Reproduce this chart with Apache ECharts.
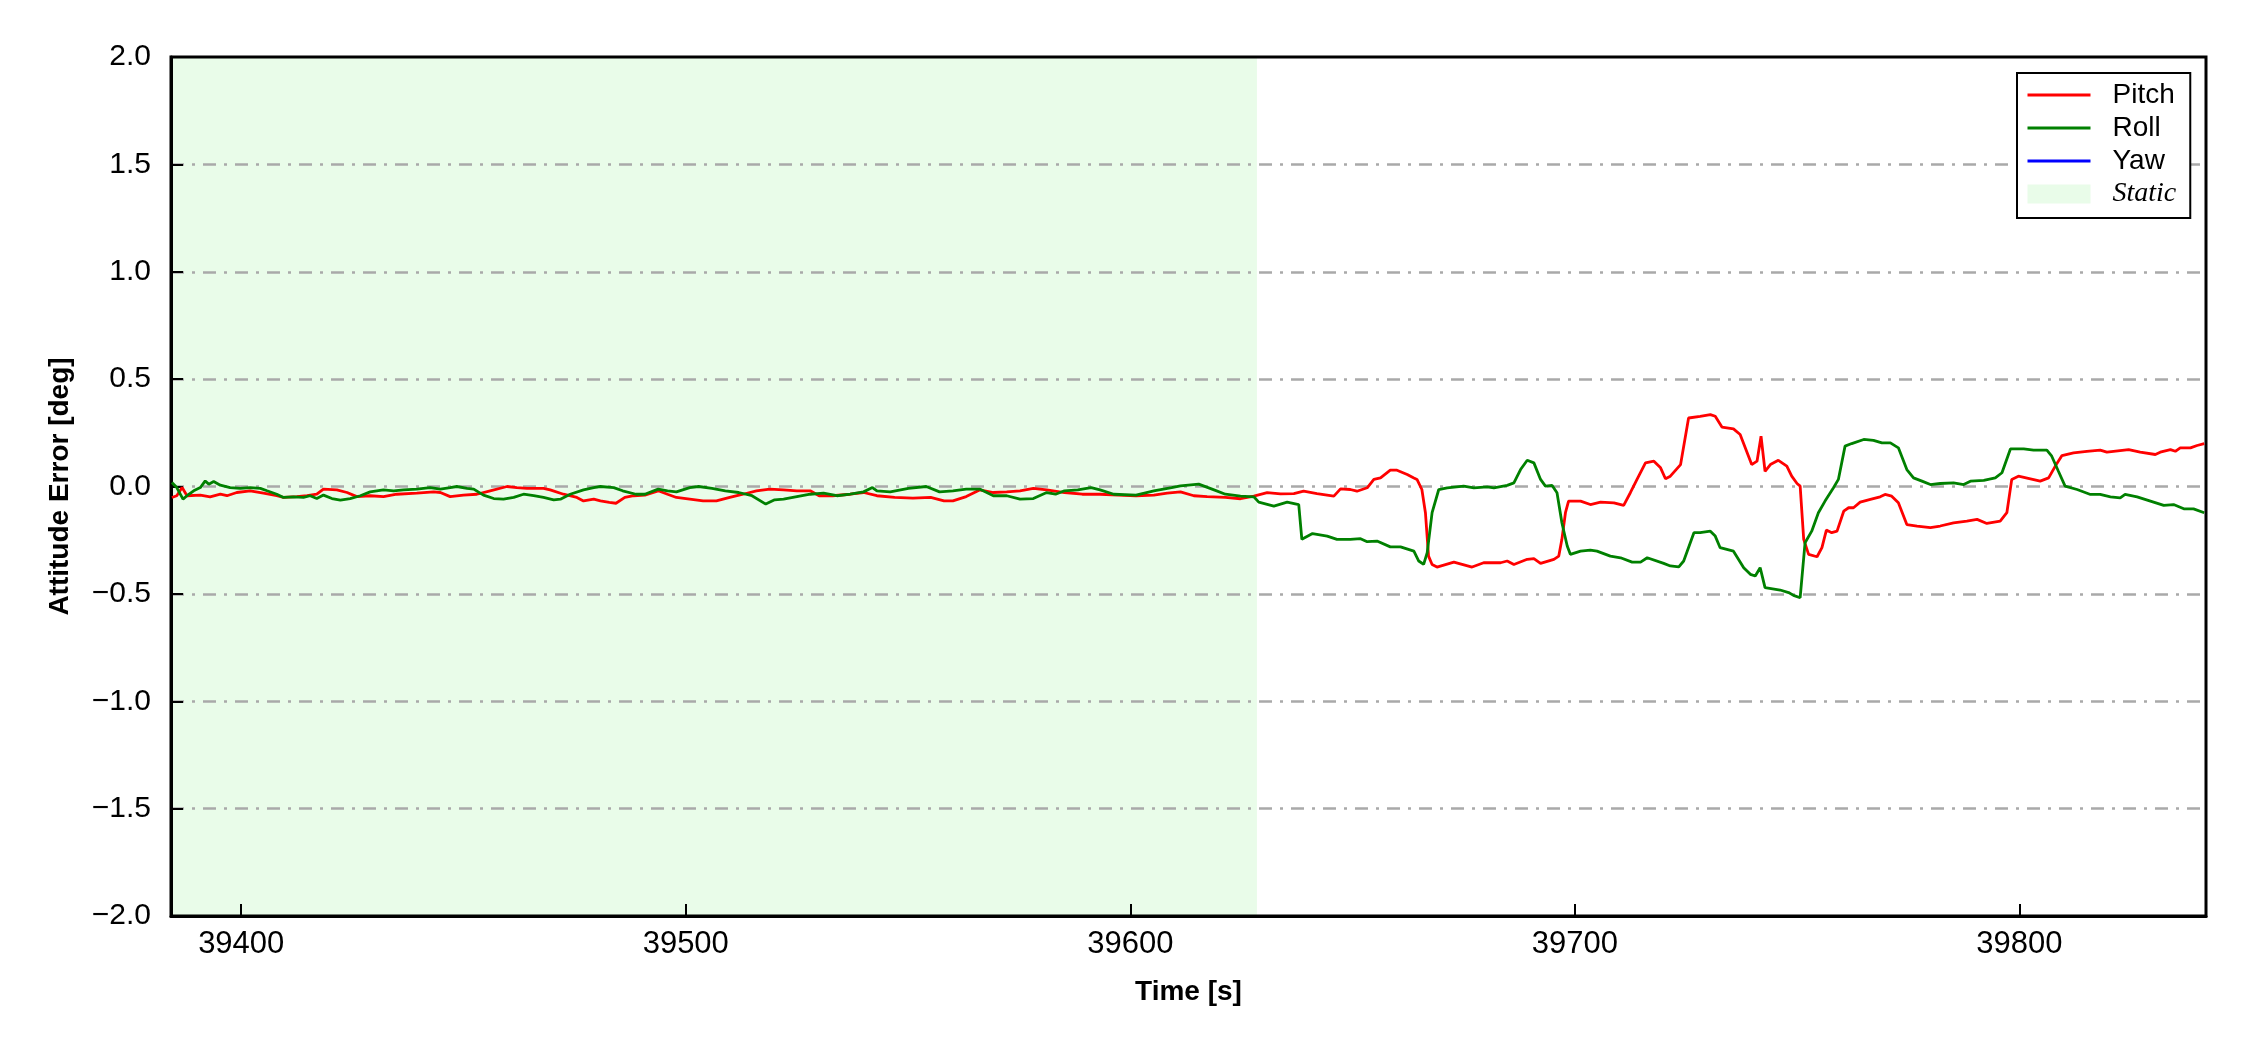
<!DOCTYPE html>
<html>
<head>
<meta charset="utf-8">
<title>Attitude Error</title>
<script src="https://cdn.jsdelivr.net/npm/echarts@6/dist/echarts.min.js"></script>
<style>
  html, body { margin: 0; padding: 0; background: #fff; }
  #chart { width: 2250px; height: 1050px; }
</style>
</head>
<body>
<div id="chart"></div>
<script>
// time axis [s]
const xTicks = [39400, 39500, 39600, 39700, 39800]
const xMin = 39384.2
const xMax = 39842
const staticSpan = [39384.2, 39628.5]

// pitch error [deg]
const pitchTime = [
  39384.4, 39385.5, 39386.7, 39387.8, 39390.8, 39393.0, 39395.3, 39396.8, 39399.0, 39402.0,
  39405.0, 39408.0, 39409.5, 39412.5, 39414.8, 39417.0, 39418.5, 39421.5, 39423.8, 39426.0,
  39429.0, 39432.0, 39435.0, 39439.5, 39443.3, 39444.8, 39447.0, 39450.0, 39453.0, 39456.0,
  39459.8, 39462.0, 39464.3, 39468.0, 39469.5, 39472.5, 39475.5, 39477.0, 39479.3,
  39480.8, 39482.8, 39484.3, 39486.3, 39488.3, 39490.8, 39493.8, 39495.9, 39497.9, 39500.9,
  39503.9, 39506.9, 39509.9, 39512.9, 39515.9, 39518.9, 39522.0, 39525.0, 39528.0, 39530.0,
  39533.0, 39537.0, 39540.0, 39543.0, 39547.0, 39551.1, 39555.1, 39558.1, 39560.1, 39563.1,
  39566.1, 39569.2, 39572.2, 39575.2, 39578.2, 39581.2, 39585.2, 39589.2, 39593.2, 39597.3,
  39601.3, 39605.3, 39608.3, 39611.3, 39614.3, 39617.3, 39621.4,
  39624.8, 39627.8, 39630.8, 39633.8, 39636.8, 39639.0, 39642.0, 39645.8, 39647.3, 39649.5,
  39651.0, 39653.3, 39654.8, 39656.3, 39658.5, 39660.0, 39662.3, 39663.8, 39664.5, 39665.6,
  39666.4, 39667.1, 39667.9, 39669.0, 39672.8, 39676.9, 39679.5, 39683.3, 39684.8, 39686.3,
  39689.3, 39690.8, 39692.3, 39695.3, 39696.4, 39697.1, 39697.9, 39698.6, 39701.3, 39703.5,
  39705.8, 39708.8, 39711.0, 39712.5, 39714.0, 39715.9, 39717.8, 39719.3, 39720.4, 39721.5,
  39723.8, 39725.6,
  39728.2, 39730.5, 39731.6, 39733.1, 39735.7, 39737.2, 39739.8, 39741.0, 39741.9, 39742.8,
  39744.0, 39745.8, 39747.7, 39748.8, 39750.0, 39750.7, 39751.5, 39752.6, 39754.5, 39755.6,
  39756.6, 39757.8, 39759.0, 39760.5, 39761.6, 39762.7, 39764.2, 39766.5, 39768.7, 39769.8,
  39771.3, 39772.8, 39774.7, 39777.0, 39780.0, 39782.2, 39785.2, 39788.2, 39790.5, 39792.7,
  39795.7, 39797.2, 39798.3, 39799.8, 39802.5, 39804.7, 39806.6, 39808.1, 39809.6, 39812.2,
  39815.2, 39818.2, 39819.7, 39821.2, 39824.6, 39827.2, 39830.6, 39831.7, 39834.0, 39835.1,
  39836.2, 39838.5, 39840.0, 39841.6
]
const pitchDeg = [
  -0.051, -0.043, -0.005, -0.043, -0.040, -0.048, -0.036, -0.043, -0.028, -0.020,
  -0.031, -0.043, -0.051, -0.047, -0.043, -0.036, -0.012, -0.016, -0.028, -0.047,
  -0.043, -0.047, -0.036, -0.031, -0.025, -0.028, -0.047, -0.040, -0.036, -0.020,
  0.000, -0.005, -0.009, -0.009, -0.016, -0.036, -0.051, -0.067, -0.059,
  -0.067, -0.074, -0.078, -0.051, -0.043, -0.040, -0.020, -0.036, -0.051, -0.059,
  -0.067, -0.067, -0.051, -0.036, -0.020, -0.012, -0.016, -0.020, -0.020, -0.043,
  -0.043, -0.036, -0.028, -0.043, -0.051, -0.054, -0.051, -0.067, -0.067, -0.047,
  -0.016, -0.028, -0.025, -0.020, -0.009, -0.016, -0.028, -0.036, -0.036, -0.040,
  -0.043, -0.040, -0.031, -0.025, -0.043, -0.047, -0.051,
  -0.057, -0.045, -0.029, -0.034, -0.033, -0.022, -0.033, -0.045, -0.011, -0.014,
  -0.022, -0.006, 0.033, 0.040, 0.076, 0.076, 0.056, 0.040, 0.033, -0.014,
  -0.122, -0.324, -0.363, -0.375, -0.352, -0.375, -0.355, -0.355, -0.347, -0.363,
  -0.339, -0.336, -0.358, -0.339, -0.324, -0.246, -0.122, -0.068, -0.068, -0.084,
  -0.073, -0.076, -0.088, -0.029, 0.033, 0.110, 0.118, 0.087, 0.036, 0.048,
  0.102, 0.319,
  0.327, 0.335, 0.327, 0.277, 0.268, 0.242, 0.102, 0.118, 0.234, 0.071,
  0.102, 0.122, 0.095, 0.048, 0.014, 0.002, -0.246, -0.316, -0.327, -0.285,
  -0.203, -0.215, -0.208, -0.115, -0.099, -0.099, -0.073, -0.060, -0.048, -0.037,
  -0.045, -0.076, -0.177, -0.184, -0.192, -0.184, -0.169, -0.161, -0.153, -0.172,
  -0.161, -0.122, 0.033, 0.048, 0.036, 0.025, 0.040, 0.095, 0.144, 0.157,
  0.164, 0.169, 0.160, 0.164, 0.172, 0.160, 0.149, 0.160, 0.172, 0.164,
  0.180, 0.180, 0.191, 0.200
]

// roll error [deg]
const rollTime = [
  39384.4, 39385.5, 39386.9, 39387.8, 39389.3, 39390.8, 39391.9, 39392.7, 39393.8, 39395.3,
  39397.5, 39399.8, 39402.0, 39404.3, 39405.8, 39408.0, 39409.5, 39411.8, 39414.0, 39415.5,
  39417.0, 39418.5, 39420.4, 39422.3, 39424.5, 39426.8, 39429.0, 39432.0, 39434.3, 39436.5,
  39439.5, 39442.5, 39444.8, 39447.0, 39448.5, 39450.8, 39452.3, 39454.5, 39456.8, 39459.0,
  39461.3, 39463.5, 39465.8, 39468.0, 39470.3, 39471.8, 39474.0, 39477.0, 39479.3,
  39480.8, 39483.8, 39485.8, 39488.8, 39490.8, 39493.8, 39495.9, 39497.9, 39500.9, 39502.9,
  39505.9, 39508.9, 39511.9, 39514.9, 39518.0, 39520.0, 39522.0, 39525.0, 39528.0, 39531.0,
  39534.0, 39537.0, 39540.0, 39542.0, 39543.0, 39546.0, 39550.1, 39554.1, 39557.1, 39560.1,
  39563.1, 39566.1, 39569.2, 39572.2, 39575.2, 39578.2, 39581.2, 39583.2, 39585.2, 39588.2,
  39591.2, 39593.2, 39596.3, 39601.3, 39605.3, 39609.3, 39611.3, 39615.4, 39618.4, 39621.4,
  39624.8, 39627.8, 39628.9, 39632.3, 39635.3, 39637.9, 39638.6, 39641.0, 39644.3, 39646.5,
  39649.5, 39651.8, 39653.3, 39655.5, 39658.5, 39660.8, 39663.8, 39664.9, 39666.0, 39666.8,
  39667.9, 39669.4, 39671.3, 39675.0, 39677.3, 39680.3, 39681.8, 39684.8, 39686.3, 39687.8,
  39689.3, 39690.8, 39692.3, 39693.4, 39694.9, 39696.0, 39697.1, 39698.3, 39699.0, 39701.3,
  39703.5, 39705.0, 39708.0, 39710.3, 39712.9, 39714.8, 39716.3, 39720.0, 39721.5, 39723.4,
  39724.5, 39726.8,
  39728.2, 39730.5, 39731.6, 39732.7, 39735.7, 39738.0, 39739.5, 39740.6, 39741.7, 39742.8,
  39746.2, 39748.1, 39749.2, 39750.7, 39751.8, 39753.3, 39754.8, 39756.3, 39758.2, 39759.3,
  39760.8, 39762.3, 39765.0, 39767.2, 39769.1, 39771.0, 39772.8, 39774.7, 39776.2, 39778.1,
  39780.0, 39782.2, 39785.2, 39787.5, 39789.0, 39792.0, 39794.6, 39796.1, 39798.0, 39801.0,
  39803.2, 39806.2, 39807.3, 39808.8, 39810.3, 39813.0, 39816.0, 39818.2, 39820.5, 39822.7,
  39823.8, 39826.5, 39829.5, 39832.5, 39834.7, 39837.0, 39839.2, 39841.6
]
const rollDeg = [
  0.019, -0.005, -0.059, -0.043, -0.020, -0.005, 0.026, 0.011, 0.023, 0.006,
  -0.005, -0.009, -0.005, -0.009, -0.020, -0.036, -0.051, -0.048, -0.051, -0.043,
  -0.056, -0.040, -0.056, -0.064, -0.056, -0.043, -0.025, -0.016, -0.020, -0.016,
  -0.012, -0.005, -0.012, -0.005, 0.000, -0.009, -0.012, -0.040, -0.056, -0.059,
  -0.051, -0.036, -0.043, -0.051, -0.062, -0.059, -0.036, -0.016, -0.005,
  0.000, -0.005, -0.020, -0.036, -0.036, -0.012, -0.020, -0.025, -0.005, 0.000,
  -0.009, -0.020, -0.028, -0.043, -0.082, -0.062, -0.059, -0.047, -0.036, -0.031,
  -0.043, -0.036, -0.025, -0.005, -0.020, -0.025, -0.009, 0.000, -0.025, -0.020,
  -0.012, -0.012, -0.043, -0.043, -0.059, -0.056, -0.028, -0.036, -0.020, -0.016,
  -0.005, -0.016, -0.036, -0.040, -0.020, -0.005, 0.003, 0.011, -0.012, -0.036,
  -0.045, -0.048, -0.073, -0.091, -0.073, -0.084, -0.246, -0.219, -0.231, -0.246,
  -0.246, -0.243, -0.257, -0.254, -0.281, -0.281, -0.301, -0.347, -0.363, -0.308,
  -0.122, -0.014, -0.006, 0.002, -0.006, -0.002, -0.006, 0.005, 0.017, 0.079,
  0.122, 0.110, 0.033, 0.002, 0.005, -0.029, -0.169, -0.277, -0.316, -0.301,
  -0.296, -0.301, -0.324, -0.332, -0.352, -0.352, -0.332, -0.358, -0.370, -0.374,
  -0.347, -0.215,
  -0.215, -0.208, -0.231, -0.285, -0.301, -0.378, -0.409, -0.417, -0.378, -0.471,
  -0.482, -0.494, -0.507, -0.518, -0.262, -0.208, -0.122, -0.068, -0.006, 0.033,
  0.188, 0.200, 0.219, 0.215, 0.203, 0.203, 0.180, 0.079, 0.040, 0.025,
  0.009, 0.014, 0.017, 0.009, 0.025, 0.029, 0.040, 0.064, 0.175, 0.175,
  0.169, 0.169, 0.141, 0.071, 0.002, -0.014, -0.037, -0.037, -0.048, -0.053,
  -0.037, -0.048, -0.068, -0.088, -0.084, -0.104, -0.104, -0.122
]

// yaw error [deg] - no trace visible inside the plotted range
const yawTime = []
const yawDeg = []

const FONT = '"Liberation Sans", Arial, Helvetica, sans-serif'
const SERIF = '"Liberation Serif", "Times New Roman", serif'
const STATIC_FILL = '#e9fce9'

function pairs(ts, vs) {
  return ts.map((t, i) => [t, vs[i]])
}

function fmtY(v) {
  const s = Math.abs(v).toFixed(1)
  return v < 0 ? '\u2212' + s : s
}

function lineSeries(name, color, ts, vs) {
  return {
    name,
    type: 'line',
    data: pairs(ts, vs),
    symbol: 'none',
    lineStyle: { width: 2.8, color },
    itemStyle: { color },
    z: 3,
  }
}

// legend entry for a line: keep the stroke, hide the marker dot
function lineLegend(name) {
  return { name, itemStyle: { opacity: 0 }, lineStyle: { width: 3 } }
}

function buildOption() {
  return {
    animation: false,
    backgroundColor: '#fff',
    textStyle: { fontFamily: FONT, color: '#000' },
    grid: {
      left: 171, right: 44, top: 57, bottom: 134,
      show: true, borderColor: '#000', borderWidth: 3, backgroundColor: 'transparent',
    },
    legend: {
      orient: 'vertical',
      left: 2017,
      top: 73,
      padding: [8, 14, 10, 9],
      borderColor: '#000',
      borderWidth: 2,
      borderRadius: 0,
      backgroundColor: '#fff',
      itemWidth: 63,
      itemHeight: 19,
      itemGap: 5,
      selectedMode: false,
      textStyle: {
        fontFamily: FONT, fontSize: 28, color: '#000',
        rich: {
          t: { fontFamily: FONT, fontSize: 28, color: '#000', padding: [0, 0, 0, 17] },
          s: { fontFamily: SERIF, fontStyle: 'italic', fontSize: 28, color: '#000', padding: [0, 0, 0, 17] },
        },
      },
      formatter: (name) => (name === 'Static' ? '{s|Static}' : '{t|' + name + '}'),
      data: [
        lineLegend('Pitch'),
        lineLegend('Roll'),
        lineLegend('Yaw'),
        { name: 'Static', icon: 'rect', itemStyle: { color: STATIC_FILL } },
      ],
    },
    xAxis: {
      type: 'value',
      min: xMin,
      max: xMax,
      name: 'Time [s]',
      nameLocation: 'middle',
      nameGap: 62,
      nameTextStyle: { fontFamily: FONT, fontWeight: 'bold', fontSize: 28, color: '#000' },
      axisLine: { show: true, onZero: false, lineStyle: { color: '#000', width: 3 } },
      axisTick: { show: true, inside: true, length: 12, customValues: xTicks, lineStyle: { color: '#000', width: 2 } },
      axisLabel: {
        customValues: xTicks, margin: 13, fontFamily: FONT, fontSize: 31, color: '#000',
        formatter: (v) => String(v),
      },
      splitLine: { show: false },
    },
    yAxis: {
      type: 'value',
      min: -2,
      max: 2,
      interval: 0.5,
      name: 'Attitude Error [deg]',
      nameLocation: 'middle',
      nameGap: 97,
      nameTextStyle: { fontFamily: FONT, fontWeight: 'bold', fontSize: 28, color: '#000' },
      axisLine: { show: true, onZero: false, lineStyle: { color: '#000', width: 3 } },
      axisTick: { show: true, inside: true, length: 12, lineStyle: { color: '#000', width: 2 } },
      axisLabel: { formatter: fmtY, margin: 20, fontFamily: FONT, fontSize: 30, color: '#000' },
      splitLine: {
        show: true,
        showMinLine: false,
        showMaxLine: false,
        lineStyle: { color: '#a9a9a9', width: 2.5, type: [13, 8, 3, 8] },
      },
    },
    series: [
      lineSeries('Pitch', '#ff0000', pitchTime, pitchDeg),
      lineSeries('Roll', '#008000', rollTime, rollDeg),
      lineSeries('Yaw', '#0000ff', yawTime, yawDeg),
      {
        name: 'Static',
        type: 'line',
        data: [],
        symbol: 'none',
        z: -1,
        itemStyle: { color: STATIC_FILL },
        lineStyle: { color: STATIC_FILL },
        markArea: {
          silent: true,
          z: -1,
          itemStyle: { color: STATIC_FILL },
          data: [[{ xAxis: staticSpan[0] }, { xAxis: staticSpan[1] }]],
        },
      },
    ],
  }
}

const chart = echarts.init(document.getElementById('chart'), null, { renderer: 'canvas' })
chart.setOption(buildOption())
window.addEventListener('resize', () => chart.resize())
</script>
</body>
</html>
